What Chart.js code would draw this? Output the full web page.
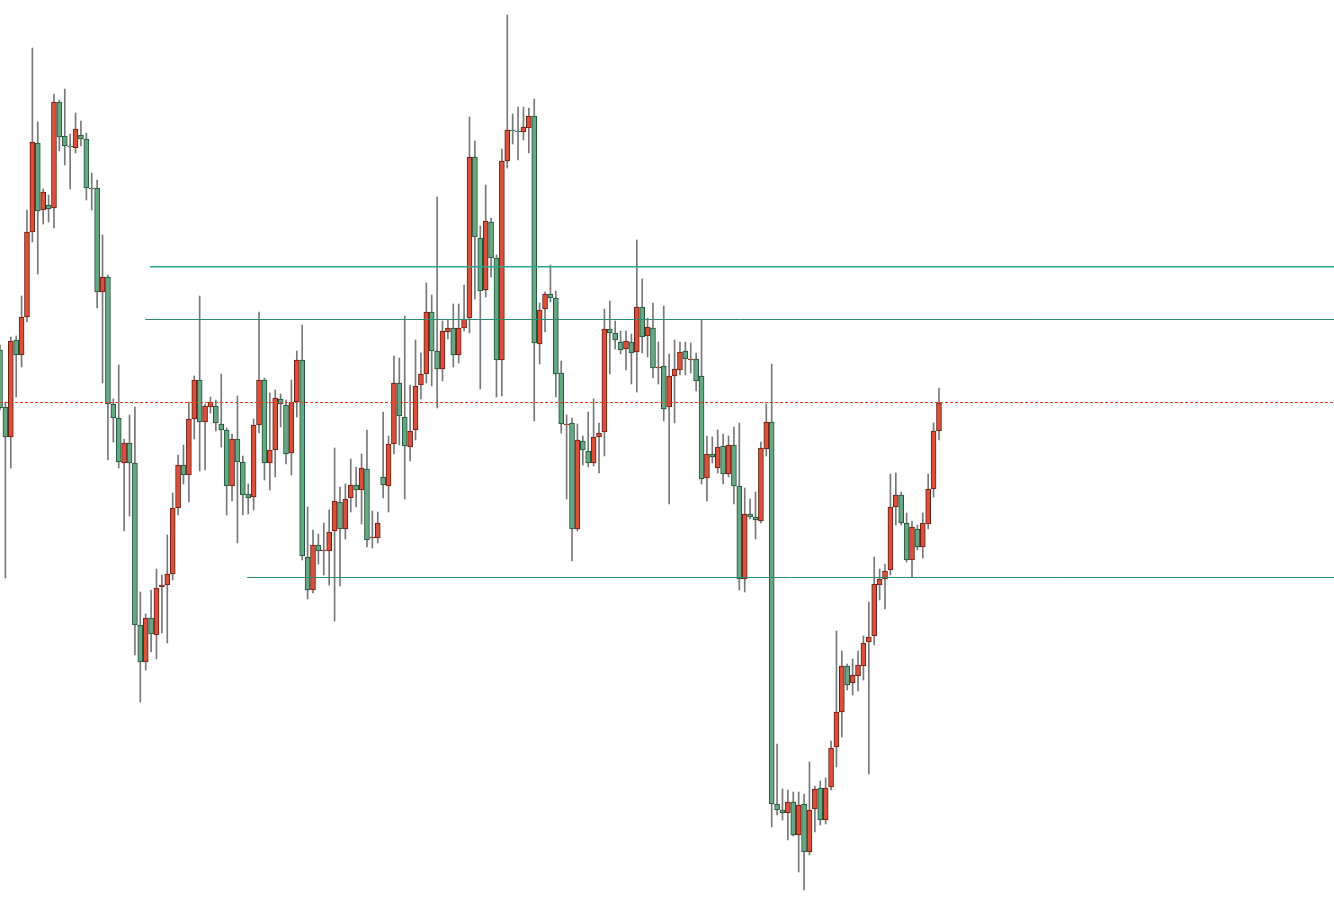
<!DOCTYPE html>
<html>
<head>
<meta charset="utf-8">
<script src="https://cdn.jsdelivr.net/npm/chart.js@4.4.1/dist/chart.umd.min.js"></script>
<style>
html, body { margin: 0; padding: 0; background: #fff; }
canvas { display: block; }
</style>
</head>
<body>
<canvas id="grafico" width="1334" height="905"></canvas>
<script>
// Candles (index 0..174), price units
const opens = [650,593,563,660,645,683,768,857,790,795,792,898,864,854,852,865,861,812,812,708,
  723,596,582,537,557,537,375,338,382,365,413,415,426,492,535,525,581,620,578,593,
  594,576,570,514,561,538,506,503,575,620,537,550,601,595,547,598,640,443,410,455,
  449,449,469,498,471,502,515,510,531,462,462,523,514,556,617,583,553,570,615,626,
  688,649,631,668,672,645,672,682,843,762,710,778,742,640,839,870,869,868,872,884,
  656,691,706,702,627,575,577,471,559,549,537,563,568,671,667,658,651,658,648,693,
  664,672,632,634,593,624,630,649,640,641,624,522,546,532,554,526,555,514,421,486,
  483,479,551,578,196,190,187,198,165,196,148,191,212,180,213,253,288,334,317,324,
  334,358,364,415,421,430,493,505,477,440,471,453,476,511,569];
const closes = [592,563,659,645,683,768,858,789,808,791,898,863,854,853,871,861,812,811,708,723,
  596,582,538,557,537,375,338,382,366,412,415,426,492,535,525,581,620,578,594,598,
  577,570,514,561,538,505,502,575,620,537,550,602,596,546,598,640,444,410,455,449,
  450,468,499,471,501,515,510,532,460,463,477,515,556,617,584,554,569,614,626,688,
  649,631,669,672,645,672,681,843,763,709,779,742,640,839,870,869,868,873,884,657,
  690,706,702,626,576,576,471,560,550,537,563,567,671,667,660,650,659,647,693,663,
  673,632,633,591,624,631,648,641,641,619,521,546,543,553,526,555,514,421,486,483,
  480,552,578,196,190,187,198,165,195,148,190,211,180,212,252,288,334,315,325,335,
  357,363,416,421,429,493,505,477,440,473,453,477,511,569,597];
const highs = [655,598,663,664,704,790,952,878,811,805,906,900,911,866,887,879,867,827,820,765,
  725,601,635,561,585,593,408,386,410,431,425,465,507,545,555,598,624,704,596,603,
  600,626,572,566,604,544,516,581,688,622,607,610,606,600,620,649,675,493,470,466,
  477,490,552,513,516,541,533,546,570,489,488,588,564,644,642,684,615,660,647,717,
  705,803,679,680,696,696,715,883,859,774,815,782,745,851,985,886,893,893,892,901,
  697,708,735,709,639,585,582,576,564,588,601,577,691,699,679,669,669,666,760,721,
  682,697,658,694,646,660,658,658,657,647,680,564,563,570,566,564,573,577,512,501,
  508,558,596,636,256,211,210,208,208,206,238,214,219,222,259,369,349,336,341,349,
  364,398,443,431,436,526,527,508,487,479,475,487,526,577,612];
const lows = [590,422,532,603,633,678,758,726,776,778,772,849,835,811,847,854,800,790,692,617,
  540,558,532,469,484,345,298,330,348,341,367,357,420,485,516,498,561,529,530,587,
  569,553,485,499,457,485,486,490,567,520,510,523,573,536,525,583,440,401,407,436,
  425,415,379,414,461,488,493,476,453,452,457,502,488,546,555,501,539,560,601,617,
  614,592,619,661,633,637,669,667,701,611,703,723,603,604,832,856,840,860,847,579,
  636,668,698,603,567,501,439,469,535,533,534,527,544,626,651,646,630,616,608,647,
  643,622,616,579,496,577,625,625,627,609,516,499,537,527,516,523,496,410,408,481,
  461,477,544,173,185,180,160,164,128,110,145,168,175,176,210,233,263,310,305,309,
  320,226,355,400,391,425,475,475,438,423,450,442,471,503,560];

// Horizontal levels: [price, first candle index]
const levelPrices = [733.2, 680.5, 422.5];
const levelStarts = [27.8, 26.9, 45.8];
const bidPrice = 597.5;

const xMax = 247.2;
const idx = opens.map((_, i) => i);

const RED = '#d9503b', RED_EDGE = '#6a1d13';
const GREEN = '#68a784', GREEN_EDGE = '#1f5236';
const TEAL = '#2a8a73';

const up = i => closes[i] >= opens[i];

const datasets = [
  {
    type: 'bar',
    data: idx.map(i => ({ x: i, y: [lows[i], highs[i]] })),
    backgroundColor: '#777777',
    barThickness: 1,
    grouped: false,
    order: 2
  },
  {
    type: 'bar',
    data: idx.map(i => ({ x: i, y: [opens[i], closes[i]] })),
    backgroundColor: idx.map(i => up(i) ? RED : GREEN),
    borderColor: idx.map(i => up(i) ? RED_EDGE : GREEN_EDGE),
    borderWidth: 1,
    borderSkipped: false,
    barThickness: 5,
    grouped: false,
    order: 1
  }
];

levelPrices.forEach((p, k) => {
  datasets.push({
    type: 'line',
    data: [{ x: levelStarts[k], y: p }, { x: xMax, y: p }],
    borderColor: k === 0 ? '#2ea58d' : TEAL,
    borderWidth: k === 0 ? 1.4 : 1,
    pointRadius: 0,
    order: 0
  });
});

datasets.push({
  type: 'line',
  data: [{ x: 0, y: bidPrice }, { x: xMax, y: bidPrice }],
  borderColor: '#e5401f',
  borderWidth: 1,
  borderDash: [3, 2],
  pointRadius: 0,
  order: 0
});

new Chart(document.getElementById('grafico'), {
  type: 'bar',
  data: { datasets },
  options: {
    responsive: false,
    animation: false,
    layout: { padding: 0 },
    scales: {
      x: { type: 'linear', min: 0, max: xMax, display: false, offset: false },
      y: { type: 'linear', min: 95, max: 1000, display: false }
    },
    plugins: {
      legend: { display: false },
      tooltip: { enabled: false }
    }
  }
});
</script>
</body>
</html>
